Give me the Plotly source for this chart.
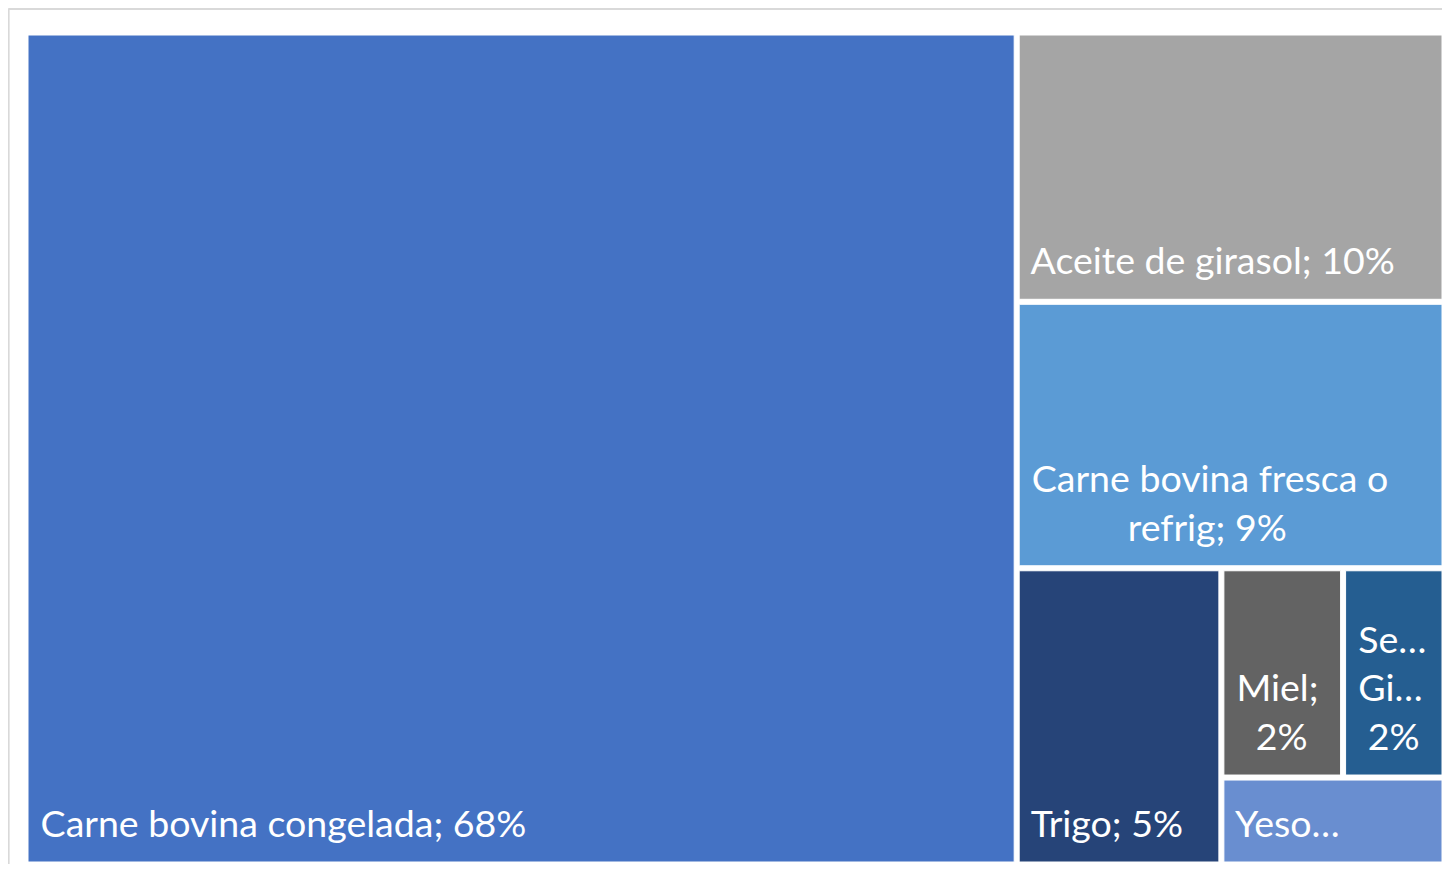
import plotly.graph_objects as go

# ---- data (shares of exports, %) ----
products = ["Carne bovina congelada", "Aceite de girasol", "Carne bovina fresca o refrig",
            "Trigo", "Miel", "Semillas de girasol", "Yeso"]
shares = [68.0, 9.5, 9.4, 5.0, 2.1, 1.75, 1.6]
# label lines as shown in the original (long names truncated there)
label_lines = [["Carne bovina congelada; 68%"], ["Aceite de girasol; 10%"],
               ["Carne bovina fresca o", "refrig; 9%"], ["Trigo; 5%"], ["Miel;", "2%"],
               ["Se…", "Gi…", "2%"], ["Yeso…"]]
# leading no-break spaces used to centre shorter lines under the first one
line_indent = [[0], [0], [0, 10], [0], [0, 2], [0, 0, 1], [0]]
colors = ["#4472C4", "#A5A5A5", "#5B9BD5", "#264478", "#636363", "#255E91", "#698ED0"]

# layout grouping (reproduces the tile arrangement of the original)
group_of = {"Carne bovina congelada": "", "Aceite de girasol": "gA",
            "Carne bovina fresca o refrig": "gA", "Trigo": "gB", "Miel": "gD",
            "Semillas de girasol": "gD", "Yeso": "gC"}
gparent = {"gA": "", "gB": "gA", "gC": "gB", "gD": "gC"}
order = ["Carne bovina congelada", "gA", "Aceite de girasol", "Carne bovina fresca o refrig",
         "gB", "Trigo", "gC", "gD", "Miel", "Semillas de girasol", "Yeso"]

NB = "\u00a0"
LIFT = "<span style='baseline-shift:-14px'>" + NB + "</span>"


def make_label(lines, indents):
    out = [NB + NB * k + ln for ln, k in zip(lines, indents)]
    return "<br>".join(out) + LIFT


ids, parents, vals, texts, cols = [], [], [], [], []
for node in order:
    ids.append(node)
    if node in gparent:
        parents.append(gparent[node])
        vals.append(0)
        texts.append("")
        cols.append("#FFFFFF")
    else:
        i = products.index(node)
        parents.append(group_of[node])
        vals.append(shares[i])
        texts.append(make_label(label_lines[i], line_indent[i]))
        cols.append(colors[i])

FONT = dict(family="Lato", size=37.5, color="#FFFFFF")

fig = go.Figure(go.Treemap(
    ids=ids, labels=ids, parents=parents, values=vals,
    text=texts, texttemplate="%{text}", textposition="bottom left",
    sort=False, branchvalues="remainder",
    marker=dict(colors=cols, line=dict(width=1, color="#FFFFFF"),
                pad=dict(t=0, l=0, r=0, b=0)),
    tiling=dict(packing="slice-dice", pad=5),
    pathbar=dict(visible=False),
    textfont=FONT,
    insidetextfont=FONT,
    hoverinfo="skip",
    root=dict(color="#FFFFFF"),
))

fig.update_layout(
    width=1434, height=856,
    margin=dict(l=20, r=0, t=27, b=2),
    paper_bgcolor="#FFFFFF",
    shapes=[
        dict(type="line", xref="paper", yref="paper", x0=-0.014, x1=1.02, y0=1.0314, y1=1.0314,
             line=dict(color="#D9D9D9", width=2)),
        dict(type="line", xref="paper", yref="paper", x0=-0.0137, x1=-0.0137, y0=1.0314, y1=-0.03,
             line=dict(color="#D9D9D9", width=2)),
    ],
)

fig.write_html("out.html")
